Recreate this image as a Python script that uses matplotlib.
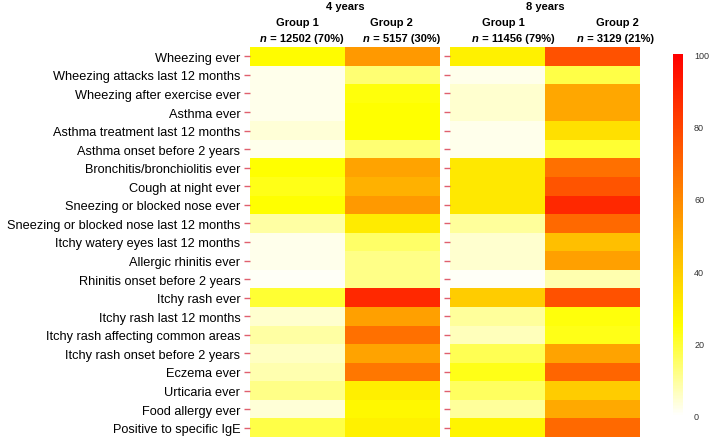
import numpy as np
import matplotlib
matplotlib.use('Agg')
import matplotlib.pyplot as plt
from matplotlib.colors import LinearSegmentedColormap

plt.rcParams['font.family'] = ['Liberation Sans', 'DejaVu Sans']

# Symptom labels, top to bottom
labels = [
    "Wheezing ever", "Wheezing attacks last 12 months", "Wheezing after exercise ever",
    "Asthma ever", "Asthma treatment last 12 months", "Asthma onset before 2 years",
    "Bronchitis/bronchiolitis ever", "Cough at night ever", "Sneezing or blocked nose ever",
    "Sneezing or blocked nose last 12 months", "Itchy watery eyes last 12 months",
    "Allergic rhinitis ever", "Rhinitis onset before 2 years", "Itchy rash ever",
    "Itchy rash last 12 months", "Itchy rash affecting common areas",
    "Itchy rash onset before 2 years", "Eczema ever", "Urticaria ever",
    "Food allergy ever", "Positive to specific IgE",
]

# Prevalence (%)
g1_4y = [26, 2, 2, 2, 4, 2, 25, 23, 25, 9, 2, 2, 1, 20, 5, 9, 6, 8, 12, 4, 18]
g2_4y = [55, 14, 24, 25, 25, 14, 52, 48, 55, 31, 15, 12, 12, 88, 53, 67, 52, 65, 30, 27, 29]
g1_8y = [29, 2, 5, 5, 2, 2, 32, 32, 32, 10, 5, 5, 1, 40, 10, 7, 17, 23, 16, 10, 28]
g2_8y = [76, 18, 51, 51, 34, 20, 67, 75, 88, 69, 44, 53, 8, 76, 24, 23, 52, 70, 40, 50, 69]

panel_titles = ["4 years", "8 years"]
group_names = ["Group 1", "Group 2"]
n_texts = [[" = 12502 (70%)", " = 5157 (30%)"], [" = 11456 (79%)", " = 3129 (21%)"]]
cbar_ticks = [0, 20, 40, 60, 80, 100]

cmap = LinearSegmentedColormap.from_list(
    "heat", [(0.0, "#FFFFFF"), (0.25, "#FFFF00"), (1.0, "#FF0000")])

W, H = 709, 439
fig = plt.figure(figsize=(W / 100, H / 100), dpi=100)


def fx(x):
    return x / W


def fy(y):
    return 1 - y / H


panels = [np.column_stack([g1_4y, g2_4y]), np.column_stack([g1_8y, g2_8y])]
lefts = [250, 450]
top, bottom = 48, 438
for i, data in enumerate(panels):
    ax = fig.add_axes([fx(lefts[i]), fy(bottom), 190 / W, (bottom - top) / H])
    mesh = ax.pcolormesh(data, cmap=cmap, vmin=0, vmax=100)
    ax.set_ylim(len(labels), 0)
    ax.set_xticks([])
    ax.set_yticks(np.arange(len(labels)) + 0.5)
    if i == 0:
        ax.set_yticklabels(labels, fontsize=9.2)
    else:
        ax.set_yticklabels([])
    ax.tick_params(axis='y', length=4, width=1, color='#E0606E', pad=3)
    for s in ax.spines.values():
        s.set_visible(False)

# Column headers
fig.text(fx(345), fy(7), panel_titles[0], ha='center', va='center', fontsize=8, fontweight='bold')
fig.text(fx(545), fy(7), panel_titles[1], ha='center', va='center', fontsize=8, fontweight='bold')
group_x = [[297, 391], [503, 617]]
n_x = [[260, 363], [472, 577]]
for p in range(2):
    for g in range(2):
        fig.text(fx(group_x[p][g]), fy(23), group_names[g], ha='center', va='center',
                 fontsize=8, fontweight='bold')
        t = fig.text(fx(n_x[p][g]), fy(38.5), "n", ha='left', va='center',
                     fontsize=8, fontweight='bold', style='italic')
        fig.add_artist(plt.Annotation(n_texts[p][g], xy=(1, 0.5), xycoords=t,
                                      va='center', ha='left', fontsize=8, fontweight='bold'))

# Colorbar
cax = fig.add_axes([fx(673), fy(417), 10 / W, (417 - 55) / H])
cb = fig.colorbar(mesh, cax=cax, ticks=cbar_ticks)
cb.outline.set_visible(False)
cax.tick_params(length=0, labelsize=6.5, labelcolor='#333333', pad=8)

fig.savefig("out.png", dpi=100)
plt.close(fig)
